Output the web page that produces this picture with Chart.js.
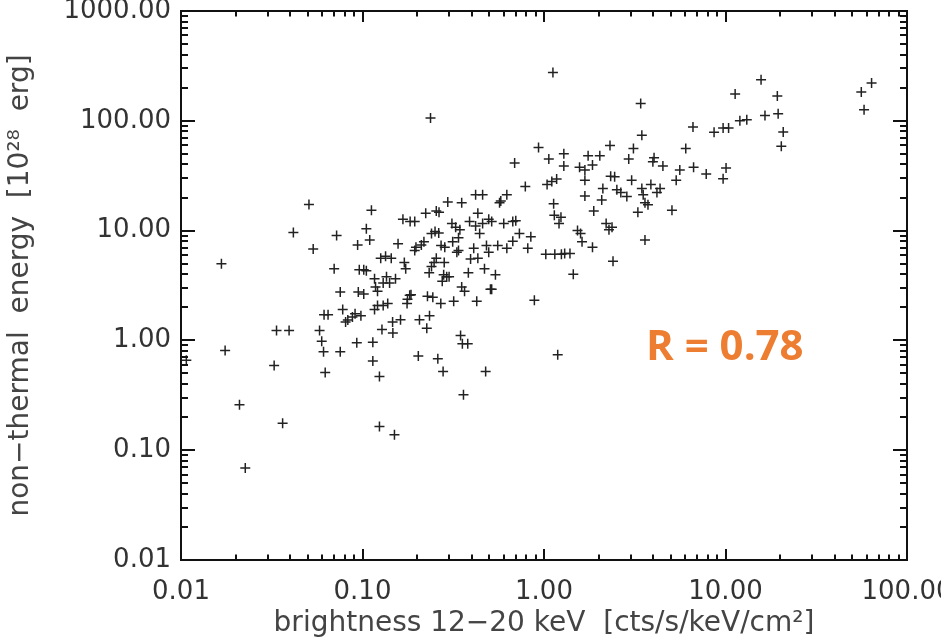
<!DOCTYPE html>
<html>
<head>
<meta charset="utf-8">
<style>
  html, body { margin: 0; padding: 0; background: #fff; overflow: hidden; }
  #wrap { width: 941px; height: 642px; }
</style>
<script src="https://cdn.jsdelivr.net/npm/chart.js@4.4.0/dist/chart.umd.min.js"></script>
</head>
<body>
<div id="wrap"><canvas id="chart" width="941" height="642"></canvas></div>
<script>
// brightness 12-20 keV
const xValues = [
  0.0107, 0.0167, 0.0175, 0.021, 0.0226, 0.0326, 0.0336, 0.0394, 0.0363, 0.0416,
  0.0507, 0.0535, 0.058, 0.0596, 0.061, 0.0623, 0.0614, 0.0646, 0.0698, 0.072,
  0.0754, 0.0754, 0.0778, 0.0807, 0.083, 0.088, 0.091, 0.094, 0.0948, 0.096,
  0.093, 0.098, 0.1016, 0.1016, 0.105, 0.105, 0.1096, 0.112, 0.114, 0.114,
  0.1165, 0.1165, 0.118, 0.121, 0.121, 0.124, 0.124, 0.126, 0.128, 0.13,
  0.13, 0.134, 0.1356, 0.1377, 0.144, 0.141, 0.1465, 0.147, 0.15, 0.152,
  0.157, 0.162, 0.167, 0.17, 0.173, 0.176, 0.177, 0.183, 0.182, 0.185,
  0.194, 0.194, 0.197, 0.203, 0.206, 0.211, 0.218, 0.223, 0.226, 0.228,
  0.233, 0.234, 0.237, 0.24, 0.24, 0.244, 0.248, 0.251, 0.255, 0.255,
  0.26, 0.263, 0.264, 0.27, 0.271, 0.275, 0.278, 0.28, 0.282, 0.291,
  0.295, 0.284, 0.3, 0.314, 0.318, 0.326, 0.331, 0.338, 0.338, 0.347,
  0.352, 0.352, 0.355, 0.36, 0.365, 0.38, 0.383, 0.389, 0.394, 0.41,
  0.42, 0.426, 0.432, 0.432, 0.442, 0.459, 0.459, 0.47, 0.477, 0.482,
  0.496, 0.496, 0.507, 0.515, 0.515, 0.54, 0.556, 0.569, 0.578, 0.6,
  0.624, 0.624, 0.673, 0.673, 0.689, 0.699, 0.732, 0.789, 0.814, 0.846,
  0.885, 0.933, 1.023, 1.04, 1.063, 1.104, 1.12, 1.13, 1.14, 1.147,
  1.174, 1.19, 1.21, 1.24, 1.247, 1.286, 1.286, 1.3, 1.39, 1.45,
  1.53, 1.57, 1.59, 1.62, 1.68, 1.68, 1.68, 1.75, 1.85, 1.88,
  1.85, 2.03, 2.08, 2.11, 2.2, 2.28, 2.31, 2.33, 2.4, 2.45,
  2.37, 2.52, 2.65, 2.86, 2.93, 3.04, 3.11, 3.29, 3.41, 3.46,
  3.46, 3.52, 3.6, 3.6, 3.74, 3.88, 4.04, 3.98, 4.19, 4.36,
  4.52, 5.07, 5.35, 5.6, 6.04, 6.62, 6.67, 7.83, 8.65, 9.7,
  9.7, 10.07, 10.4, 11.3, 12.0, 13.1, 15.7, 16.5, 19.3, 19.5,
  20.8, 20.3, 56, 58, 63.8, 0.42, 0.311, 0.344
];

// non-thermal energy [1e28 erg]
const yValues = [
  0.66, 5.0, 0.81, 0.26, 0.069, 0.59, 1.23, 1.23, 0.176, 9.6,
  17.3, 6.8, 1.23, 0.98, 0.79, 0.51, 1.71, 1.71, 4.5, 9.0,
  2.76, 0.79, 1.91, 1.47, 1.53, 1.63, 1.75, 7.4, 2.76, 4.4,
  0.95, 1.68, 4.4, 2.64, 10.4, 4.3, 8.2, 15.3, 0.96, 0.65,
  1.91, 3.64, 3.06, 2.81, 2.08, 0.47, 0.164, 5.6, 1.26, 3.34,
  2.08, 5.84, 3.8, 2.17, 5.6, 3.34, 1.47, 1.17, 0.138, 3.64,
  7.6, 1.54, 12.7, 5.13, 4.5, 2.17, 2.37, 12.1, 2.58, 2.6,
  12.1, 6.6, 7.06, 0.72, 1.54, 7.4, 7.9, 14.4, 1.29, 2.53,
  4.14, 1.68, 106, 4.7, 9.4, 2.47, 5.13, 9.8, 15.1, 5.6,
  0.68, 9.5, 14.7, 2.17, 7.3, 3.45, 0.52, 3.96, 5.13, 3.8,
  18.2, 7.06, 3.8, 7.9, 2.27, 10.7, 6.36, 6.6, 8.6, 1.11,
  17.9, 3.06, 0.93, 0.32, 2.81, 0.93, 4.14, 12.1, 5.5, 6.9,
  21.2, 2.27, 14.4, 5.6, 9.4, 21.2, 11.6, 4.5, 0.52, 7.3,
  12.7, 6.36, 2.93, 2.93, 12.1, 3.96, 7.3, 17.9, 18.6, 11.6,
  21.2, 6.9, 12.1, 8.0, 41.2, 12.3, 9.4, 25.2, 6.9, 8.8,
  2.32, 57, 6.1, 26.3, 45, 28, 276, 17.6, 13.8, 6.1,
  29.5, 0.74, 11.6, 13.2, 6.1, 50, 38.8, 6.2, 6.2, 4.0,
  10.0, 37.8, 9.4, 7.9, 35.6, 28.8, 20.7, 48, 39.5, 15.1,
  7.06, 48, 19, 24.2, 11.6, 10.2, 59.7, 31.3, 5.27, 30.9,
  10.7, 23.5, 22.2, 20.4, 45, 28.8, 56, 14.7, 144, 74,
  24.2, 21.2, 8.2, 17.9, 17.2, 26.3, 46, 42.3, 22.2, 24.2,
  38.8, 15.3, 28.8, 35.6, 56, 88, 37.8, 32.7, 78.6, 86,
  29.7, 37.1, 86, 175, 100, 102, 236, 112, 168, 116,
  79, 58.6, 183, 126, 221, 11.0, 11.6, 10.2
];

const xTickValues = [0.01, 0.1, 1, 10, 100];
const xTickLabels = ['0.01', '0.10', '1.00', '10.00', '100.00'];
const yTickValues = [0.01, 0.1, 1, 10, 100, 1000];
const yTickLabels = ['0.01', '0.10', '1.00', '10.00', '100.00', '1000.00'];

const xTitle = 'brightness 12\u221220 keV  [cts/s/keV/cm\u00b2]';
const yTitle = 'non\u2212thermal  energy  [10\u00b2\u2078  erg]';
const corrLabel = 'R = 0.78';
const corrAt = { x: 3.65, y: 0.66 };

const points = xValues.map((x, i) => ({ x: x, y: yValues[i] }));

// IDL style box with inward ticks on all four sides, plus the R label
const frame = {
    id: 'frame',
    afterDatasetsDraw(chart) {
        const { ctx, chartArea: a } = chart;
        const xs = chart.scales.x;
        const ys = chart.scales.y;
        ctx.save();
        ctx.strokeStyle = '#111';
        ctx.lineWidth = 2;
        ctx.strokeRect(a.left, a.top, a.right - a.left, a.bottom - a.top);

        ctx.beginPath();
        xTickValues.forEach(base => {
            for (let m = 1; m < 10; m++) {
                const v = base * m;
                if (v > xs.max * 1.0001) break;
                const px = Math.round(xs.getPixelForValue(v));
                const len = m === 1 ? 11 : 5.5;
                ctx.moveTo(px, a.bottom);
                ctx.lineTo(px, a.bottom - len);
                ctx.moveTo(px, a.top);
                ctx.lineTo(px, a.top + len);
            }
        });
        yTickValues.forEach(base => {
            for (let m = 1; m < 10; m++) {
                const v = base * m;
                if (v > ys.max * 1.0001) break;
                const py = Math.round(ys.getPixelForValue(v));
                const len = m === 1 ? 14 : 7;
                ctx.moveTo(a.left, py);
                ctx.lineTo(a.left + len, py);
                ctx.moveTo(a.right, py);
                ctx.lineTo(a.right - len, py);
            }
        });
        ctx.stroke();

        ctx.font = 'bold 42px "Open Sans"';
        ctx.fillStyle = '#ED7D31';
        ctx.textBaseline = 'alphabetic';
        ctx.fillText(corrLabel, xs.getPixelForValue(corrAt.x), ys.getPixelForValue(corrAt.y));
        ctx.restore();
    }
};

const tickFont = { family: 'DejaVu Sans', size: 26 };
const titleFont = { family: 'DejaVu Sans', size: 28 };

new Chart(document.getElementById('chart'), {
    type: 'scatter',
    data: {
        datasets: [{
            data: points,
            pointStyle: 'cross',
            radius: 5,
            hoverRadius: 5,
            borderColor: '#222',
            backgroundColor: '#222',
            borderWidth: 1.5
        }]
    },
    options: {
        responsive: false,
        animation: false,
        layout: { padding: { top: 11, right: 34, bottom: 0, left: 0 } },
        plugins: {
            legend: { display: false },
            tooltip: { enabled: false }
        },
        scales: {
            x: {
                type: 'logarithmic',
                min: 0.01,
                max: 100,
                afterBuildTicks: s => { s.ticks = xTickValues.map(v => ({ value: v })); },
                afterFit: s => { s.height = 82; s.paddingLeft = 0; s.paddingRight = 0; },
                grid: { display: false, drawTicks: false },
                border: { display: false },
                ticks: {
                    autoSkip: false,
                    maxRotation: 0,
                    padding: 17,
                    color: '#333',
                    font: tickFont,
                    callback: (v, i) => xTickLabels[i]
                },
                title: {
                    display: true,
                    text: xTitle,
                    color: '#444',
                    font: titleFont,
                    padding: { top: 0, bottom: 1 }
                }
            },
            y: {
                type: 'logarithmic',
                min: 0.01,
                max: 1000,
                afterBuildTicks: s => { s.ticks = yTickValues.map(v => ({ value: v })); },
                afterFit: s => { s.width = 181; s.paddingTop = 0; s.paddingBottom = 0; },
                grid: { display: false, drawTicks: false },
                border: { display: false },
                ticks: {
                    autoSkip: false,
                    padding: 10,
                    color: '#333',
                    font: tickFont,
                    callback: (v, i) => yTickLabels[i]
                },
                title: {
                    display: true,
                    text: yTitle,
                    color: '#444',
                    font: titleFont,
                    padding: { top: 4, bottom: 0 }
                }
            }
        }
    },
    plugins: [frame]
});
</script>
</body>
</html>
